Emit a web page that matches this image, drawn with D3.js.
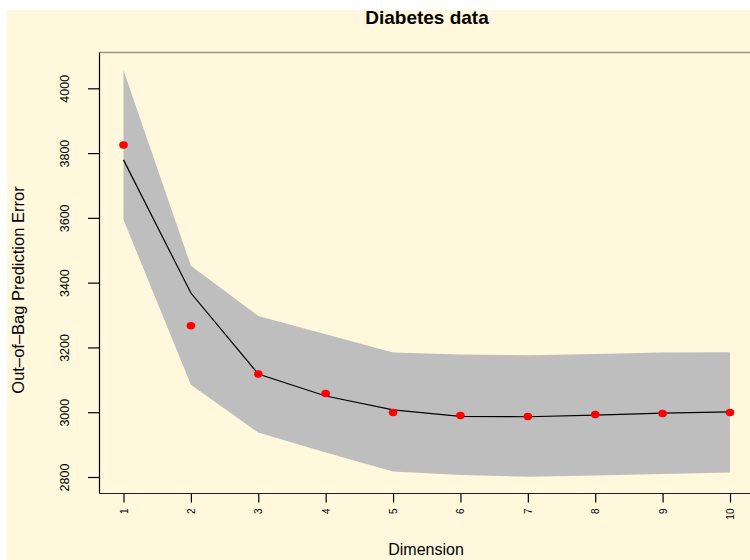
<!DOCTYPE html>
<html>
<head>
<meta charset="utf-8">
<script src="https://cdn.jsdelivr.net/npm/d3@7"></script>
<style>
  body { margin: 0; background: #fff; }
  svg { display: block; font-family: "Liberation Sans", Arial, sans-serif; }
</style>
</head>
<body>
<div id="chart"></div>
<script>
"use strict";
// dimension 1..10
const dims = [1, 2, 3, 4, 5, 6, 7, 8, 9, 10];
// mean out-of-bag error (black line)
const meanErr = [3779, 3368, 3118, 3050, 3007, 2987, 2986, 2991, 2997, 3001];
// band limits (grey polygon)
const upperErr = [4056, 3452, 3297, 3241, 3184, 3178, 3176, 3180, 3184, 3185];
const lowerErr = [3594, 3085, 2937, 2876, 2817, 2806, 2801, 2805, 2809, 2814];
// red points
const pointErr = [3825, 3267, 3118, 3058, 2999, 2990, 2987, 2993, 2996, 2999];
const yTicks = [2800, 3000, 3200, 3400, 3600, 3800, 4000];

const width = 750, height = 560;
const boxLeft = 99.5, boxTop = 52.5, boxBottom = 493.5;

const svg = d3.select("#chart").append("svg")
    .attr("width", width)
    .attr("height", height);

// cream background
svg.append("rect")
    .attr("x", 7).attr("y", 10)
    .attr("width", width - 7).attr("height", height - 10)
    .attr("fill", "#fff8dc");

const x = d3.scaleLinear().domain([1, 10]).range([123.5, 730]);
const y = d3.scaleLinear().domain([2800, 4000]).range([477, 88.3]);

// band
const area = d3.area()
    .x((d, i) => x(dims[i]))
    .y0((d, i) => y(lowerErr[i]))
    .y1((d, i) => y(upperErr[i]));
svg.append("path")
    .datum(dims)
    .attr("d", area)
    .attr("fill", "#bebebe");

// mean line
const line = d3.line()
    .x((d, i) => x(dims[i]))
    .y(d => y(d));
svg.append("path")
    .datum(meanErr)
    .attr("d", line)
    .attr("fill", "none")
    .attr("stroke", "#000")
    .attr("stroke-width", 1.2);

// points
svg.selectAll(".pt")
    .data(pointErr)
    .join("ellipse")
    .attr("class", "pt")
    .attr("cx", (d, i) => x(dims[i]))
    .attr("cy", d => y(d))
    .attr("rx", 4.3)
    .attr("ry", 3.7)
    .attr("fill", "#ff0000");

// box
svg.append("line")
    .attr("x1", boxLeft).attr("x2", width)
    .attr("y1", boxTop).attr("y2", boxTop)
    .attr("stroke", "#9a9484").attr("stroke-width", 1.5);
svg.append("line")
    .attr("x1", boxLeft).attr("x2", width)
    .attr("y1", boxBottom).attr("y2", boxBottom)
    .attr("stroke", "#222").attr("stroke-width", 1.2);
svg.append("line")
    .attr("x1", boxLeft).attr("x2", boxLeft)
    .attr("y1", boxTop).attr("y2", boxBottom)
    .attr("stroke", "#000").attr("stroke-width", 1.2);

// y axis
const yAxis = d3.axisLeft(y)
    .tickValues(yTicks)
    .tickSize(11.5)
    .tickPadding(0)
    .tickFormat(d3.format("d"));
svg.append("g")
    .attr("transform", `translate(${boxLeft},0)`)
    .call(yAxis)
    .call(g => g.select(".domain").remove())
    .call(g => g.selectAll(".tick line").attr("stroke", "#000").attr("stroke-width", 1.2))
    .call(g => g.selectAll(".tick text")
        .attr("x", 0).attr("y", 0).attr("dy", null)
        .attr("transform", "translate(-31,0) rotate(-90)")
        .attr("text-anchor", "middle")
        .attr("fill", "#000")
        .style("font-size", "12.5px"));

// x axis
const xAxis = d3.axisBottom(x)
    .tickValues(dims)
    .tickSize(9)
    .tickFormat(d3.format("d"));
svg.append("g")
    .attr("transform", `translate(0,${boxBottom})`)
    .call(xAxis)
    .call(g => g.select(".domain").remove())
    .call(g => g.selectAll(".tick line").attr("stroke", "#000").attr("stroke-width", 1.2))
    .call(g => g.selectAll(".tick text")
        .attr("x", 0).attr("y", 0).attr("dy", null)
        .attr("transform", "translate(3.5,15) rotate(-90)")
        .attr("text-anchor", "end")
        .attr("fill", "#000")
        .style("font-size", "10px"));

// titles
svg.append("text")
    .attr("x", 427).attr("y", 24)
    .attr("text-anchor", "middle")
    .style("font-size", "19px")
    .style("font-weight", "bold")
    .text("Diabetes data");

svg.append("text")
    .attr("x", 426).attr("y", 555)
    .attr("text-anchor", "middle")
    .style("font-size", "16px")
    .text("Dimension");

svg.append("text")
    .attr("transform", "translate(23.5,290) rotate(-90)")
    .attr("text-anchor", "middle")
    .style("font-size", "16.5px")
    .text("Out\u2013of\u2013Bag Prediction Error");
</script>
</body>
</html>
